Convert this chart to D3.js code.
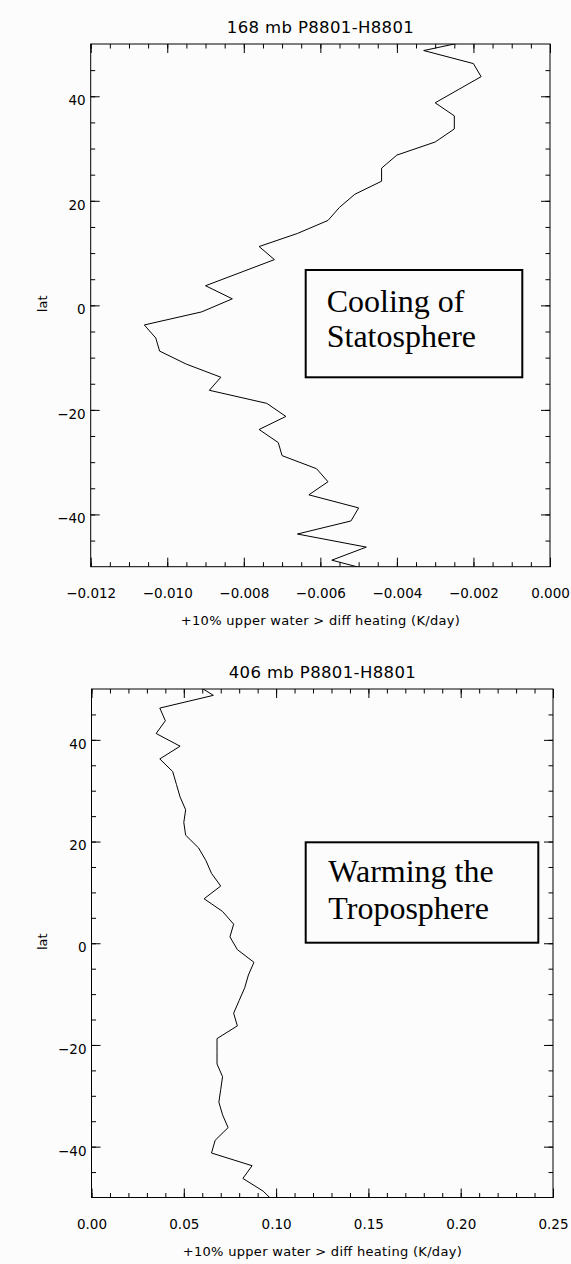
<!DOCTYPE html>
<html>
<head>
<meta charset="utf-8">
<script src="https://cdn.jsdelivr.net/npm/d3@7"></script>
<style>
  body { margin: 0; background: #fcfcfc; }
  svg text { font-family: "DejaVu Sans", sans-serif; fill: #000; }
  .box text { font-family: "Liberation Serif", "Times New Roman", serif; font-size: 32px; }
</style>
</head>
<body>
<div class="chart"></div>
<script>
// latitude rows of the model grid (deg), north to south; the two outer rows fall outside the frame and get clipped
var lats = [51.25, 48.75, 46.25, 43.75, 41.25, 38.75, 36.25, 33.75, 31.25, 28.75,
  26.25, 23.75, 21.25, 18.75, 16.25, 13.75, 11.25, 8.75, 6.25, 3.75, 1.25,
  -1.25, -3.75, -6.25, -8.75, -11.25, -13.75, -16.25, -18.75, -21.25, -23.75,
  -26.25, -28.75, -31.25, -33.75, -36.25, -38.75, -41.25, -43.75, -46.25, -48.75, -51.25];

// heating difference at 168 mb (K/day)
var heating168 = [-0.0017, -0.0033, -0.0020, -0.0018, -0.0024, -0.0030, -0.0025, -0.0025, -0.0030, -0.0040,
  -0.0044, -0.0044, -0.0051, -0.0055, -0.0058, -0.0066, -0.0076, -0.0072, -0.0081, -0.0090, -0.0083,
  -0.0091, -0.0106, -0.0103, -0.0102, -0.0095, -0.0086, -0.0089, -0.0074, -0.0069, -0.0076,
  -0.0071, -0.0070, -0.0061, -0.0058, -0.0063, -0.0050, -0.0052, -0.0066, -0.0048, -0.0057, -0.0044];

// heating difference at 406 mb (K/day)
var heating406 = [0.055, 0.066, 0.037, 0.040, 0.035, 0.048, 0.037, 0.044, 0.046, 0.048,
  0.051, 0.050, 0.051, 0.058, 0.062, 0.065, 0.070, 0.061, 0.071, 0.077, 0.075,
  0.079, 0.088, 0.085, 0.083, 0.080, 0.077, 0.079, 0.068, 0.068, 0.068,
  0.071, 0.070, 0.069, 0.071, 0.074, 0.067, 0.065, 0.087, 0.082, 0.093, 0.100];

var latTicks = [-40, -20, 0, 20, 40];
var xTicks168 = [-0.012, -0.010, -0.008, -0.006, -0.004, -0.002, 0.000];
var xTicks406 = [0.00, 0.05, 0.10, 0.15, 0.20, 0.25];
var titles = ["168 mb P8801-H8801", "406 mb P8801-H8801"];
var xTitle = "+10% upper water > diff heating (K/day)";
var yTitle = "lat";
var notes = [["Cooling of", "Statosphere"], ["Warming the", "Troposphere"]];

var svgWidth = 571;
var svgHeight = 1264;

var svg = d3.select(".chart")
  .append("svg")
  .attr("width", svgWidth)
  .attr("height", svgHeight);

// one entry per panel: where it sits and how its x axis looks
var panels = [
  { left: 90.7, top: 44, width: 459.3, height: 522.7,
    values: heating168, xDomain: [-0.012, 0], xMajor: xTicks168, xMinorStep: 0.0005,
    fmt: d3.format(".3f"), title: titles[0], note: notes[0],
    box: { x: 215, y: 226, w: 216.6, h: 107.3, tx: 236, ty: 267.7, lh: 35 } },
  { left: 91.5, top: 689, width: 461.5, height: 508.5,
    values: heating406, xDomain: [0, 0.25], xMajor: xTicks406, xMinorStep: 0.01,
    fmt: d3.format(".2f"), title: titles[1], note: notes[1],
    box: { x: 214.2, y: 153.3, w: 232.6, h: 100.4, tx: 236.8, ty: 192.7, lh: 37.6 } }
];

panels.forEach(function(p, i) {
  var g = svg.append("g")
    .attr("transform", "translate(" + p.left + "," + p.top + ")");

  var x = d3.scaleLinear().domain(p.xDomain).range([0, p.width]);
  var y = d3.scaleLinear().domain([-50, 50]).range([p.height, 0]);

  var nMinor = Math.round((p.xDomain[1] - p.xDomain[0]) / p.xMinorStep);
  var xMinor = d3.range(nMinor + 1).map(function(k) { return p.xDomain[0] + k * p.xMinorStep; });
  var yMinor = d3.range(-45, 50, 5);

  // minor ticks on all four sides, pointing in
  g.append("g").attr("class", "tk").attr("transform", "translate(0," + p.height + ")")
    .call(d3.axisBottom(x).tickValues(xMinor).tickSize(-4.5).tickFormat(""));
  g.append("g").attr("class", "tk")
    .call(d3.axisTop(x).tickValues(xMinor).tickSize(-4.5).tickFormat(""));
  g.append("g").attr("class", "tk")
    .call(d3.axisLeft(y).tickValues(yMinor).tickSize(-4.5).tickFormat(""));
  g.append("g").attr("class", "tk").attr("transform", "translate(" + p.width + ",0)")
    .call(d3.axisRight(y).tickValues(yMinor).tickSize(-4.5).tickFormat(""));

  // major ticks, labelled on bottom and left only
  g.append("g").attr("class", "tk lab").attr("transform", "translate(0," + p.height + ")")
    .call(d3.axisBottom(x).tickValues(p.xMajor).tickSize(-9).tickPadding(22).tickFormat(p.fmt));
  g.append("g").attr("class", "tk")
    .call(d3.axisTop(x).tickValues(p.xMajor).tickSize(-9).tickFormat(""));
  g.append("g").attr("class", "tk lab ylab")
    .call(d3.axisLeft(y).tickValues(latTicks).tickSize(-9).tickPadding(5).tickFormat(d3.format("d")));
  g.append("g").attr("class", "tk").attr("transform", "translate(" + p.width + ",0)")
    .call(d3.axisRight(y).tickValues(latTicks).tickSize(-9).tickFormat(""));

  g.selectAll(".tk .domain").remove();
  g.selectAll(".tk line").attr("stroke", "#000").attr("stroke-width", 1);
  g.selectAll(".lab text").attr("font-size", "13.5px").attr("font-family", "DejaVu Sans, sans-serif");
  g.selectAll(".ylab text").attr("dy", "0.62em");

  // frame
  g.append("rect")
    .attr("width", p.width)
    .attr("height", p.height)
    .attr("fill", "none")
    .attr("stroke", "#000")
    .attr("stroke-width", 1);

  // the profile, clipped to the frame
  g.append("clipPath").attr("id", "clip" + i)
    .append("rect").attr("width", p.width).attr("height", p.height);

  var line = d3.line()
    .x(function(d) { return x(d[1]); })
    .y(function(d) { return y(d[0]); });

  g.append("path")
    .datum(d3.zip(lats, p.values))
    .attr("clip-path", "url(#clip" + i + ")")
    .attr("fill", "none")
    .attr("stroke", "#000")
    .attr("stroke-width", 1)
    .attr("d", line);

  // title above the frame
  g.append("text")
    .attr("x", p.width / 2)
    .attr("y", -10.7)
    .attr("text-anchor", "middle")
    .attr("font-size", "16.5px")
    .attr("textLength", 187)
    .attr("lengthAdjust", "spacing")
    .text(p.title);

  // x axis title
  g.append("text")
    .attr("x", p.width / 2)
    .attr("y", p.height + 58.3)
    .attr("text-anchor", "middle")
    .attr("font-size", "13px")
    .attr("textLength", 279)
    .attr("lengthAdjust", "spacing")
    .text(xTitle);

  // y axis title
  g.append("text")
    .attr("transform", "rotate(-90)")
    .attr("x", -y(0) + 1.5)
    .attr("y", 46.7 - p.left)
    .attr("text-anchor", "middle")
    .attr("font-size", "13px")
    .text(yTitle);

  // annotation box
  var box = g.append("g").attr("class", "box");
  box.append("rect")
    .attr("x", p.box.x)
    .attr("y", p.box.y)
    .attr("width", p.box.w)
    .attr("height", p.box.h)
    .attr("fill", "#fcfcfc")
    .attr("stroke", "#000")
    .attr("stroke-width", 2);
  box.selectAll("text.note")
    .data(p.note)
    .enter().append("text")
    .attr("class", "note")
    .attr("x", p.box.tx)
    .attr("y", function(d, k) { return p.box.ty + k * p.box.lh; })
    .text(function(d) { return d; });
});
</script>
</body>
</html>
